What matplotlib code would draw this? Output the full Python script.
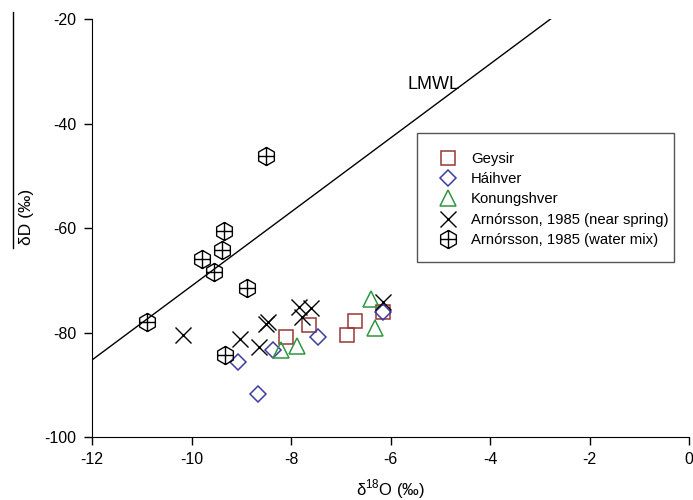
import matplotlib
matplotlib.use("Agg")
import matplotlib.pyplot as plt
from matplotlib.path import Path
from matplotlib.lines import Line2D
from matplotlib.patches import Rectangle

plt.rcParams["font.family"] = ["Liberation Sans", "DejaVu Sans"]
plt.rcParams["mathtext.fontset"] = "custom"
plt.rcParams["mathtext.rm"] = "Liberation Sans"
plt.rcParams["axes.unicode_minus"] = False

# ── Data (δ18O, δD in permil) ────────────────────────────────────────
geysir_o = [-8.10, -7.63, -6.88, -6.71, -6.16]
geysir_d = [-80.8, -78.6, -80.4, -77.8, -76.0]

haihver_o = [-9.07, -8.67, -8.37, -7.46, -6.16]
haihver_d = [-85.6, -91.7, -83.4, -80.9, -76.0]

konung_o = [-8.20, -7.87, -6.40, -6.31]
konung_d = [-83.4, -82.6, -73.6, -79.2]

near_o = [-10.18, -9.03, -8.65, -8.50, -8.47, -7.83, -7.60, -7.77, -6.16]
near_d = [-80.4, -81.3, -82.7, -78.4, -77.9, -75.1, -75.4, -77.0, -74.1]

mix_o = [-8.50, -9.35, -9.39, -9.78, -9.54, -8.89, -10.89, -9.32]
mix_d = [-46.2, -60.6, -64.2, -66.0, -68.4, -71.5, -78.0, -84.4]

# local meteoric water line  dD = slope * d18O + intercept
lmwl_slope = 7.08
lmwl_intercept = -0.3

# ── Hexagon with a cross inside ──────────────────────────────────────
hex_verts = [(0, 1), (0.87, 0.5), (0.87, -0.5), (0, -1), (-0.87, -0.5),
             (-0.87, 0.5), (0, 1),
             (0, 1), (0, -1),
             (-0.87, 0), (0.87, 0)]
hex_codes = ([Path.MOVETO] + [Path.LINETO] * 5 + [Path.CLOSEPOLY]
             + [Path.MOVETO, Path.LINETO, Path.MOVETO, Path.LINETO])
hex_cross = Path(hex_verts, hex_codes)

fig = plt.figure(figsize=(6.93, 5.00), dpi=100)
ax = fig.add_axes([92 / 693, 63 / 500, 597 / 693, 418 / 500])

# LMWL from x=-12 up to the top of the plot
x_top = (-20 - lmwl_intercept) / lmwl_slope
ax.plot([-12, x_top], [lmwl_slope * -12 + lmwl_intercept, -20],
        color="black", linewidth=1.0)
ax.text(-5.13, -32.6, "LMWL", fontsize=13, ha="center", va="center")

ax.plot(geysir_o, geysir_d, linestyle="none", marker="s", markersize=10.5,
        markerfacecolor="none", markeredgecolor="#9a3535", markeredgewidth=1.1,
        label="Geysir")
ax.plot(haihver_o, haihver_d, linestyle="none", marker="D", markersize=8.5,
        markerfacecolor="none", markeredgecolor="#3c3ca8", markeredgewidth=1.1,
        label="Háihver")
ax.plot(konung_o, konung_d, linestyle="none", marker="^", markersize=11,
        markerfacecolor="none", markeredgecolor="#2f9640", markeredgewidth=1.1,
        label="Konungshver")
ax.plot(near_o, near_d, linestyle="none", marker="x", markersize=11.5,
        markeredgecolor="black", markeredgewidth=1.0,
        label="Arnórsson, 1985 (near spring)")
ax.plot(mix_o, mix_d, linestyle="none", marker=hex_cross, markersize=13,
        markerfacecolor="none", markeredgecolor="black", markeredgewidth=1.0,
        label="Arnórsson, 1985 (water mix)")

ax.set_xlim(-12, 0)
ax.set_ylim(-100, -20)
ax.set_xticks([-12, -10, -8, -6, -4, -2, 0])
ax.set_yticks([-100, -80, -60, -40, -20])
ax.tick_params(direction="out", length=6, width=1, labelsize=11.5, pad=5)
for side in ["top", "right"]:
    ax.spines[side].set_visible(False)

ax.set_xlabel(r"δ$^{18}$O (‰)", fontsize=12)
ax.xaxis.set_label_coords(0.5, -0.096)
ax.set_ylabel("δD (‰)", fontsize=12.5)
ax.yaxis.set_label_coords(-0.097, 0.526)

# odd rule beside the y label, as in the original figure
fig.add_artist(Line2D([13 / 693, 13 / 693], [1 - 12 / 500, 1 - 248 / 500],
                      color="black", linewidth=1.0))

# legend without its own frame, boxed by hand
leg = ax.legend(loc="upper left", bbox_to_anchor=(436 / 693, 1 - 152 / 500),
                bbox_transform=fig.transFigure,
                frameon=False, fontsize=10.7,
                borderpad=0, labelspacing=0.42, handletextpad=0.75,
                handlelength=1.6, borderaxespad=0)
fig.add_artist(Rectangle((417 / 693, 1 - 262 / 500), 257 / 693, 129 / 500,
                         transform=fig.transFigure, fill=False,
                         edgecolor="#555555", linewidth=1.0))

fig.savefig("out.png", dpi=100)
